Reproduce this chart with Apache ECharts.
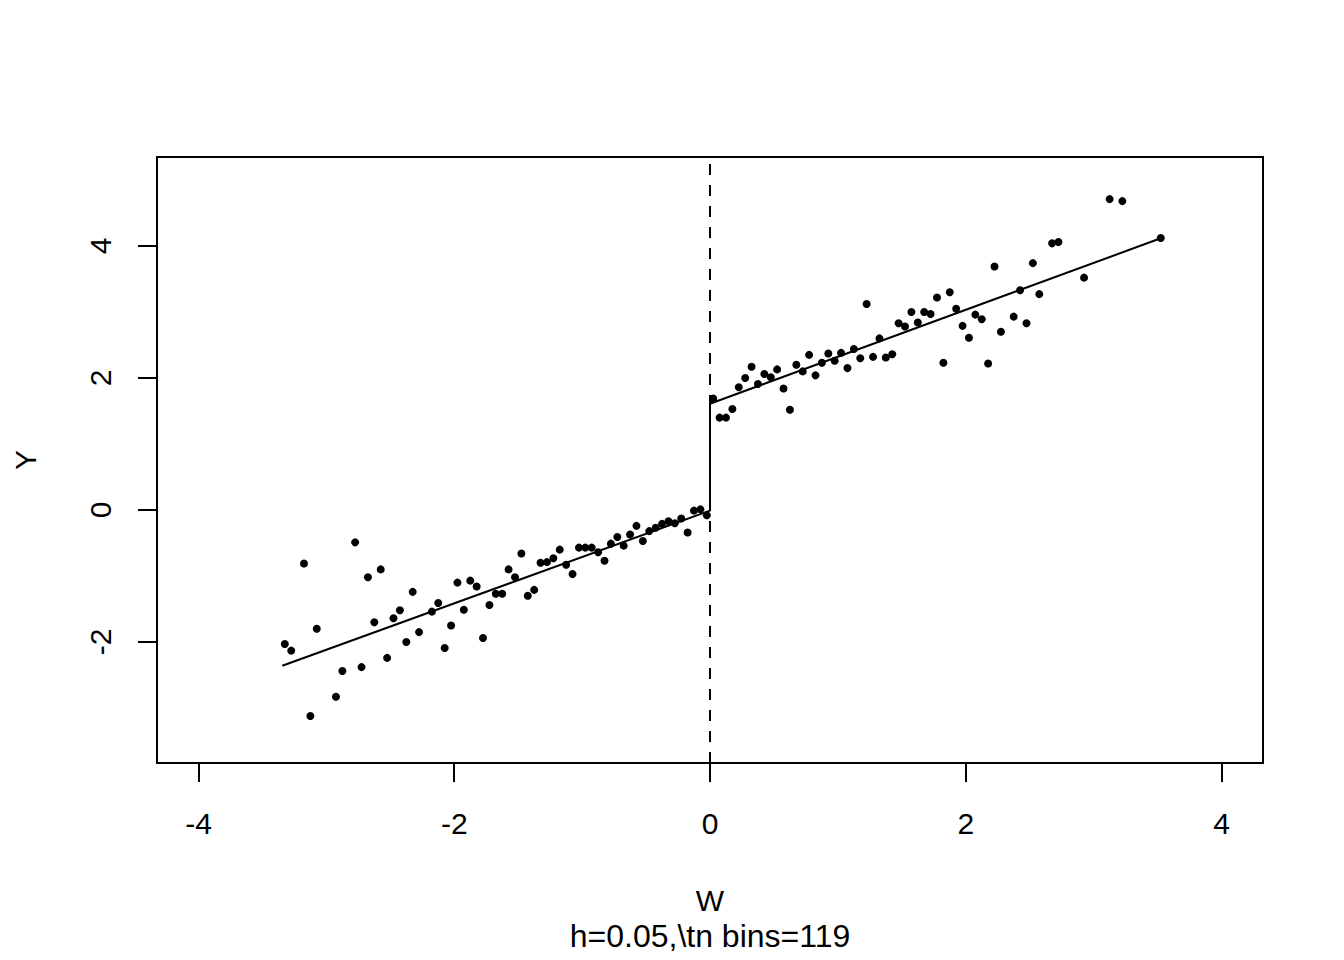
<!DOCTYPE html>
<html>
<head>
<meta charset="utf-8">
<script src="https://cdn.jsdelivr.net/npm/echarts@6/dist/echarts.min.js"></script>
<style>
  html, body { margin: 0; padding: 0; background: #fff; }
  #main { width: 1344px; height: 960px; }
</style>
</head>
<body>
<div id="main"></div>
<script>
// ---- data ----
const binW = [
  -3.325, -3.275, -3.175, -3.125, -3.075, -2.925, -2.875, -2.775, -2.725, -2.675,
  -2.625, -2.575, -2.525, -2.475, -2.425, -2.375, -2.325, -2.275, -2.175, -2.125,
  -2.075, -2.025, -1.975, -1.925, -1.875, -1.825, -1.775, -1.725, -1.675, -1.625,
  -1.575, -1.525, -1.475, -1.425, -1.375, -1.325, -1.275, -1.225, -1.175, -1.125,
  -1.075, -1.025, -0.975, -0.925, -0.875, -0.825, -0.775, -0.725, -0.675, -0.625,
  -0.575, -0.525, -0.475, -0.425, -0.375, -0.325, -0.275, -0.225, -0.175, -0.125,
  -0.075, -0.025,
  0.025, 0.075, 0.125, 0.175, 0.225, 0.275, 0.325, 0.375, 0.425, 0.475,
  0.525, 0.575, 0.625, 0.675, 0.725, 0.775, 0.825, 0.875, 0.925, 0.975,
  1.025, 1.075, 1.125, 1.175, 1.225, 1.275, 1.325, 1.375, 1.425, 1.475,
  1.525, 1.575, 1.625, 1.675, 1.725, 1.775, 1.825, 1.875, 1.925, 1.975,
  2.025, 2.075, 2.125, 2.175, 2.225, 2.275, 2.375, 2.425, 2.475, 2.525,
  2.575, 2.675, 2.725, 2.925, 3.125, 3.225, 3.525
];
const binY = [
  -2.03, -2.13, -0.81, -3.12, -1.80, -2.83, -2.44, -0.49, -2.38, -1.02,
  -1.70, -0.90, -2.24, -1.64, -1.52, -2.00, -1.24, -1.85, -1.54, -1.41,
  -2.09, -1.75, -1.10, -1.51, -1.07, -1.16, -1.94, -1.44, -1.27, -1.27,
  -0.90, -1.02, -0.66, -1.30, -1.21, -0.80, -0.79, -0.73, -0.60, -0.83,
  -0.97, -0.57, -0.57, -0.57, -0.64, -0.77, -0.51, -0.41, -0.54, -0.37,
  -0.24, -0.47, -0.32, -0.27, -0.21, -0.17, -0.20, -0.13, -0.34, -0.01,
  0.01, -0.08,
  1.69, 1.40, 1.40, 1.53, 1.86, 2.00, 2.17, 1.91, 2.06, 2.01,
  2.13, 1.84, 1.52, 2.20, 2.10, 2.35, 2.04, 2.23, 2.37, 2.26,
  2.38, 2.15, 2.44, 2.30, 3.12, 2.32, 2.60, 2.31, 2.36, 2.83,
  2.78, 3.00, 2.84, 3.00, 2.97, 3.22, 2.23, 3.30, 3.05, 2.79,
  2.61, 2.96, 2.89, 2.22, 3.69, 2.70, 2.93, 3.33, 2.83, 3.74,
  3.27, 4.04, 4.06, 3.52, 4.71, 4.68, 4.12
];
// fitted lines (left and right of cutoff)
const fitW = [-3.345, 0, 0, 3.53];
const fitY = [-2.36, -0.01, 1.61, 4.12];
const cutoff = 0;
const xTicks = [-4, -2, 0, 2, 4];
const yTicks = [-2, 0, 2, 4];
const xTitle = 'W';
const yTitle = 'Y';
const subTitle = 'h=0.05,\\tn bins=119';

const FONT = "'Liberation Sans', Arial, Helvetica, sans-serif";

const pts = binW.map((w, i) => [w, binY[i]]);
const fitPts = fitW.map((w, i) => [w, fitY[i]]);

const chart = echarts.init(document.getElementById('main'), null, { renderer: 'svg' });
chart.setOption({
  animation: false,
  backgroundColor: '#ffffff',
  title: {
    text: subTitle,
    left: 710, top: 920, padding: 0,
    textAlign: 'center',
    textStyle: { fontSize: 32, fontWeight: 'normal', color: '#000', fontFamily: FONT }
  },
  grid: {
    left: 157, top: 157, width: 1106, height: 606,
    show: true, borderColor: '#000', borderWidth: 2, backgroundColor: 'transparent'
  },
  xAxis: {
    type: 'value', min: -4.3245, max: 4.3245,
    axisLine: { show: false, onZero: false },
    splitLine: { show: false },
    axisTick: { show: true, customValues: xTicks, length: 19, lineStyle: { color: '#000', width: 2 } },
    axisLabel: { customValues: xTicks, fontSize: 30, color: '#000', margin: 45, fontFamily: FONT },
    name: xTitle, nameLocation: 'middle', nameGap: 122,
    nameTextStyle: { fontSize: 30, color: '#000', fontFamily: FONT }
  },
  yAxis: {
    type: 'value', min: -3.833, max: 5.348,
    axisLine: { show: false, onZero: false },
    splitLine: { show: false },
    axisTick: { show: true, customValues: yTicks, length: 19, lineStyle: { color: '#000', width: 2 } },
    axisLabel: { customValues: yTicks, fontSize: 30, color: '#000', margin: 42, rotate: 90, fontFamily: FONT },
    name: yTitle, nameLocation: 'middle', nameGap: 117,
    nameTextStyle: { fontSize: 30, color: '#000', fontFamily: FONT }
  },
  series: [
    {
      type: 'scatter',
      data: pts,
      symbol: 'circle',
      symbolSize: 8,
      itemStyle: { color: '#000', opacity: 1 },
      silent: true,
      markLine: {
        silent: true,
        symbol: 'none',
        label: { show: false },
        lineStyle: { color: '#000', width: 2, type: [11, 10], opacity: 1 },
        data: [{ xAxis: cutoff }]
      }
    },
    {
      type: 'line',
      data: fitPts,
      showSymbol: false,
      symbol: 'none',
      lineStyle: { color: '#000', width: 2 },
      silent: true
    }
  ]
});
</script>
</body>
</html>
